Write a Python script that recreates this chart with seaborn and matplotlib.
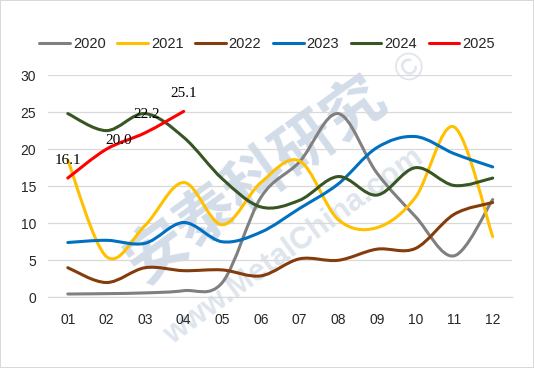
import numpy as np
import pandas as pd
import matplotlib
matplotlib.use("Agg")
import matplotlib.pyplot as plt
from matplotlib.path import Path
from matplotlib.patches import PathPatch
import seaborn as sns

# values
months = ['01', '02', '03', '04', '05', '06', '07', '08', '09', '10', '11', '12']
years = ['2020', '2021', '2022', '2023', '2024', '2025']
v2020 = [0.45, 0.5, 0.6, 0.9, 2.0, 13.5, 18.3, 24.8, 16.8, 10.9, 5.6, 13.2]
v2021 = [18.5, 5.5, 9.7, 15.5, 9.8, 15.5, 18.4, 10.5, 9.4, 13.5, 23.0, 8.2]
v2022 = [4.0, 2.0, 4.0, 3.6, 3.7, 2.9, 5.2, 5.0, 6.5, 6.6, 11.2, 12.8]
v2023 = [7.4, 7.7, 7.3, 10.1, 7.5, 8.8, 12.0, 15.3, 20.2, 21.7, 19.4, 17.6]
v2024 = [24.8, 22.5, 24.8, 21.6, 16.0, 12.2, 13.1, 16.3, 13.8, 17.5, 15.1, 16.1]
v2025 = [16.1, 20.0, 22.2, 25.1]
colors = ['#808080', '#FFC000', '#843C0C', '#0070C0', '#375623', '#FF0000']


def smooth_path(xy, k=1/6):
    """Excel style smoothed line: cubic bezier through every point"""
    pts = np.asarray(xy, dtype=float)
    n = len(pts)
    verts = [pts[0]]
    codes = [Path.MOVETO]
    for i in range(n - 1):
        p0 = pts[max(i - 1, 0)]
        p1 = pts[i]
        p2 = pts[i + 1]
        p3 = pts[min(i + 2, n - 1)]
        verts += [p1 + (p2 - p0) * k, p2 - (p3 - p1) * k, p2]
        codes += [Path.CURVE4] * 3
    return Path(verts, codes)


series = [v2020, v2021, v2022, v2023, v2024, v2025]
rows = []
for yr, vals in zip(years, series):
    for i, v in enumerate(vals):
        rows.append({'pos': i, 'value': v, 'year': yr})
df = pd.DataFrame(rows)

sns.set_theme(style='white')
plt.rcParams['font.family'] = ['Liberation Sans', 'DejaVu Sans']

fig = plt.figure(figsize=(5.34, 3.68), dpi=100, edgecolor='#D9D9D9', linewidth=1.2)
ax = fig.add_axes([0.0908, 0.192, 0.8680, 0.604])

# faint watermark, kept behind the lines
wm = dict(transform=fig.transFigure, ha='center', va='center', zorder=0.1, clip_on=False)
ax.text(0.48, 0.51, '安泰科研究', family=['Noto Sans CJK SC', 'DejaVu Sans'],
        fontsize=44, fontweight='bold', color='#D3DDE9', rotation=36, **wm)
ax.text(0.55, 0.33, 'www.MetalChina.com', fontsize=22, fontweight='bold',
        color='#DEE5ED', rotation=36, **wm)
ax.text(0.77, 0.81, '©', fontsize=28, color='#DEE5ED', rotation=36, **wm)

pal = dict(zip(years, colors))
sns.lineplot(data=df, x='pos', y='value', hue='year', palette=pal,
             linewidth=2.2, sort=False, ax=ax, legend=True)

# swap the straight segments for smoothed curves
for line in list(ax.lines):
    xy = line.get_xydata()
    if len(xy) < 2:
        continue
    col = line.get_color()
    line.remove()
    ax.add_patch(PathPatch(smooth_path(xy), fc='none', ec=col, lw=2.2,
                           capstyle='round', joinstyle='round', zorder=3))

# data labels for 2025
label_nudge = [(0, 13), (9, 6), (1, 13), (0, 13)]
for i, v in enumerate(v2025):
    ax.annotate(f'{v:.1f}', (i, v), xytext=label_nudge[i], textcoords='offset points',
                ha='center', va='center', fontsize=11, family='Liberation Serif',
                color='black', zorder=4)

ax.set_xlim(-0.5, 11.5)
ax.set_ylim(0, 30)
ax.set_yticks(range(0, 31, 5))
ax.set_xticks(range(12))
ax.set_xticklabels(months)
ax.set_xlabel('')
ax.set_ylabel('')
ax.yaxis.grid(True, color='#D9D9D9', linewidth=0.9)
ax.set_axisbelow(True)
for s in ['top', 'right', 'left']:
    ax.spines[s].set_visible(False)
ax.spines['bottom'].set_color('#D9D9D9')
ax.spines['bottom'].set_linewidth(0.9)
ax.tick_params(axis='both', length=0, labelsize=10, colors='#262626')
ax.tick_params(axis='y', pad=9)
ax.tick_params(axis='x', pad=11)
ax.set_facecolor('none')

sns.move_legend(ax, 'center', bbox_to_anchor=(0.5, 1 - 44 / 368),
                bbox_transform=fig.transFigure, ncol=6, frameon=False, title=None,
                fontsize=10.5, handlelength=2.1, handletextpad=0.2, columnspacing=0.8)

fig.savefig('out.png', dpi=100)
